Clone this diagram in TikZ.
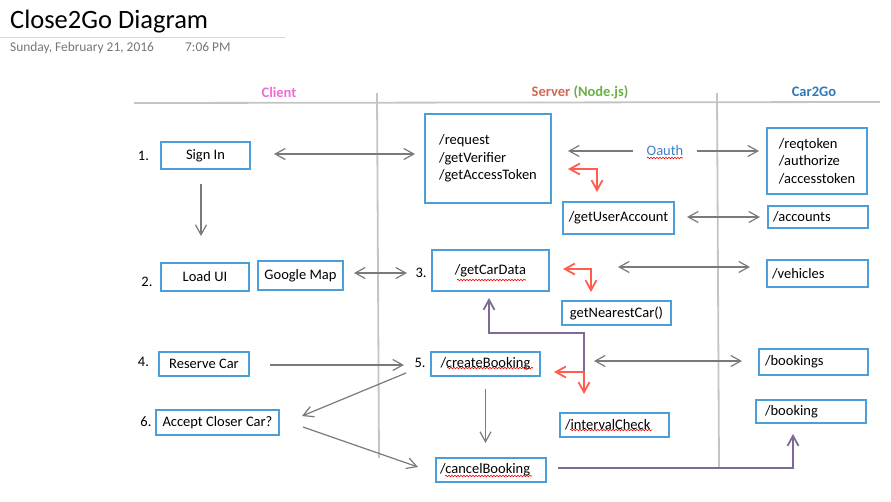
\documentclass[tikz,border=0pt]{standalone}
\usepackage{fontspec}
\setmainfont{Carlito}
\usetikzlibrary{arrows.meta,decorations.pathmorphing,calc}
\definecolor{boxblue}{HTML}{4A9FD8}
\definecolor{arrgray}{HTML}{7A7A7A}
\definecolor{lanegray}{HTML}{C4C4C4}
\definecolor{redarr}{HTML}{FF5E4F}
\definecolor{purp}{HTML}{7D6A96}
\definecolor{pinkc}{HTML}{F06BD9}
\definecolor{serverc}{HTML}{CF6A55}
\definecolor{nodejsc}{HTML}{6BAF47}
\definecolor{carc}{HTML}{2E78B8}
\definecolor{oauthc}{HTML}{3F7FC4}
\definecolor{dategray}{HTML}{767676}
\definecolor{rulegray}{HTML}{D6D6D6}
\begin{document}
\begin{tikzpicture}[x=1pt,y=-1pt,
  every node/.style={font=\fontsize{14.5}{17.5}\selectfont},
  box/.style={draw=boxblue, line width=2pt, inner sep=0pt},
  lbox/.style 2 args={box, inner xsep=#1, text width=#2, align=left},
  num/.style={inner sep=0pt},
  hdr/.style={font=\fontsize{14.5}{17.5}\selectfont\bfseries, anchor=base, inner sep=0pt},
  lane/.style={draw=lanegray, line width=1.8pt},
  >={Straight Barb[length=10pt,width=11pt]},
  arr/.style={draw=arrgray, line width=1.2pt},
  redline/.style={draw=redarr, line width=1.8pt},
  purpline/.style={draw=purp, line width=1.8pt},
  spell/.style={draw=red, line width=0.6pt, decorate, decoration={snake, amplitude=0.8pt, segment length=3pt}}
]
\useasboundingbox (0,0) rectangle (891,501);

% title block
\node[anchor=base west, inner sep=0pt, font=\fontsize{26.5}{30}\selectfont] (title) at (10,28) {Close2Go Diagram};
\draw[draw=rulegray, line width=1pt] (0,37) -- (285,37);
\node[anchor=base west, inner sep=0pt, text=dategray, font=\fontsize{13.4}{16}\selectfont] (date) at (10,51.5) {Sunday, February 21, 2016};
\node[anchor=base west, inner sep=0pt, text=dategray, font=\fontsize{13.4}{16}\selectfont] (time) at (185,51.5) {7:06 PM};

% swimlanes
\draw[lane] (134,103) -- (880,102);
\draw[lane] (377,93) -- (379,458);
\draw[lane] (717,93) -- (719,467);

\node[hdr, text=pinkc] (hclient) at (279,97) {Client};
\node[hdr] (hserver) at (580,96) {\textcolor{serverc}{Server} \textcolor{nodejsc}{(Node.js)}};
\node[hdr, text=carc] (hcar) at (814,96) {Car2Go};

% client nodes
\node[box, minimum width=89, minimum height=27] (signin) at (205.5,155.5) {Sign In};
\node[box, minimum width=88, minimum height=28] (loadui) at (205,277) {Load UI};
\node[box, minimum width=85, minimum height=29] (gmap) at (300.5,275.5) {Google Map};
\node[box, minimum width=90, minimum height=24] (reserve) at (204,364) {Reserve Car};
\node[box, minimum width=123, minimum height=25] (accept) at (217.5,422.5) {Accept Closer Car?};

\node[num] (n1) at (143.5,156) {1.};
\node[num] (n2) at (147,282) {2.};
\node[num] (n3) at (421,273) {3.};
\node[num] (n4) at (143.5,362) {4.};
\node[num] (n5) at (420,363) {5.};
\node[num] (n6) at (146,422) {6.};

% server nodes
\node[box, minimum width=126, minimum height=89, align=left] (request) at (488,158.5) {/request\\/getVerifier\\/getAccessToken};
\node[box, minimum width=111, minimum height=32] (getuser) at (618.5,218) {/getUserAccount};
\node[box, minimum width=117, minimum height=41] (getcar) at (490.5,270.5) {/getCarData};
\node[box, minimum width=109, minimum height=24] (nearest) at (616.5,313) {getNearestCar()};
\node[box, minimum width=109, minimum height=24] (create) at (485.5,364) {/createBooking};
\node[lbox={5}{99}, minimum height=24] (interval) at (614.5,425) {/intervalCheck};
\node[lbox={4}{102}, minimum height=24] (cancel) at (491,470) {/cancelBooking};

% car2go nodes
\node[box, minimum width=100, minimum height=66, align=left] (reqtoken) at (817,161) {/reqtoken\\/authorize\\/accesstoken};
\node[lbox={5}{90}, minimum height=22] (accounts) at (818,217) {/accounts};
\node[lbox={5}{91}, minimum height=27] (vehicles) at (817.5,273.5) {/vehicles};
\node[lbox={6}{97}, minimum height=26] (bookings) at (813.5,362) {/bookings};
\node[lbox={9}{92}, minimum height=23] (booking) at (811,411.5) {/booking};

% oauth label
\node[text=oauthc, inner xsep=13pt, inner ysep=2pt] (oauth) at (665,151) {Oauth};

% gray connectors
\draw[arr,<->, shorten <=23pt, shorten >=9pt] ([yshift=1.5]signin.east) -- ([yshift=1.5]signin.east -| request.west);
\draw[arr,->, shorten <=14pt, shorten >=26pt] ([xshift=-4.5]signin.south) -- ([xshift=-4.5]signin.south |- loadui.north);
\draw[arr,<->, shorten <=10pt, shorten >=24pt] ([yshift=2.5]gmap.east) -- ([yshift=2.5]gmap.east -| getcar.west);
\draw[arr,->, shorten >=16pt] (oauth.west) -- (oauth.west -| request.east);
\draw[arr,->, shorten >=7pt] (oauth.east) -- (oauth.east -| reqtoken.west);
\draw[arr,<->, shorten <=12pt, shorten >=7pt] ([yshift=1]getuser.east) -- ([yshift=1]getuser.east -| accounts.west);
\draw[arr,<->, shorten <=68pt, shorten >=16pt] ([yshift=3.5]getcar.east) -- ([yshift=3.5]getcar.east -| vehicles.west);
\draw[arr,<->, shorten <=53pt, shorten >=16pt] ([yshift=3]create.east) -- ([yshift=3]create.east -| bookings.west);
\draw[arr,->, shorten <=20pt, shorten >=26pt] ([yshift=-1]reserve.east) -- ([yshift=-1]reserve.east -| create.west);
\draw[arr,->] ($(create.west)+(-24,9)$) -- ($(accept.east)+(22,-6.5)$);
\draw[arr,->] ($(accept.east)+(23,4.5)$) -- ($(cancel.west)+(-17,-3)$);
\draw[arr,->, shorten <=12pt, shorten >=14pt] (create.south) -- (create.south |- cancel.north);

% red elbows
\coordinate (rc1) at (597,169);
\coordinate (rc2) at (591,269);
\coordinate (rc3) at (584,372);
\draw[redline,<->, shorten <=16pt, shorten >=9pt] (request.east |- rc1) -- (rc1) -- (rc1 |- getuser.north);
\draw[redline,<->, shorten <=13pt, shorten >=8pt] (getcar.east |- rc2) -- (rc2) -- (rc2 |- nearest.north);

% purple connectors
\coordinate (pk) at (489,333);
\draw[purpline,->, shorten >=6pt] (rc3) |- (pk) -- (pk |- getcar.south);
\draw[purpline,->, shorten <=11pt, shorten >=10pt] ([yshift=2]cancel.east) -| ([xshift=-18]booking.south);

\draw[redline,<->, shorten <=13pt, shorten >=18pt] (create.east |- rc3) -- (rc3) -- (rc3 |- interval.north);

% spell-check underlines
\draw[spell] (647,158) -- (683,158);
\draw[spell] (457,280) -- (526,280);
\draw[spell] (447,368) -- (533,368);
\draw[spell] (570,430) -- (652,430);
\draw[spell] (445,476) -- (532,476);
\end{tikzpicture}
\end{document}
